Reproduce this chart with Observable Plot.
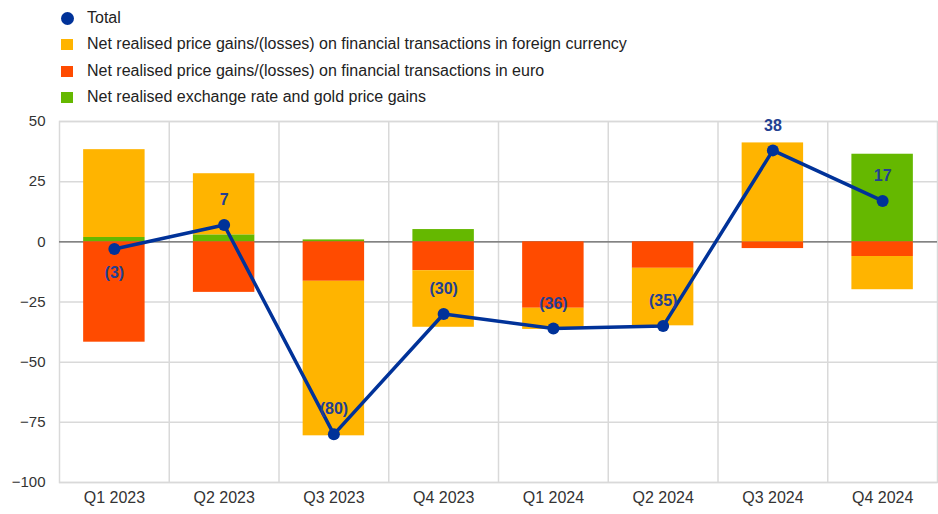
<!DOCTYPE html>
<html>
<head>
<meta charset="utf-8">
<script src="https://cdn.jsdelivr.net/npm/d3@7"></script>
<script src="https://cdn.jsdelivr.net/npm/@observablehq/plot@0.6"></script>
<style>
  body { margin: 0; background: #fff; font-family: "Liberation Sans", Arial, sans-serif; }
  #legend { position: relative; height: 108px; width: 938px; }
  .item { position: absolute; left: 60px; height: 20px; display: flex; align-items: center; font-size: 16px; color: #222; }
  .sw { width: 12px; height: 11px; margin-right: 14px; margin-left: 1px; }
  .dot { width: 13px; height: 13px; border-radius: 50%; margin-right: 13px; margin-left: 1px; }
</style>
</head>
<body>
<div id="legend"></div>
<div id="chart"></div>
<script>
const categories = ["Q1 2023", "Q2 2023", "Q3 2023", "Q4 2023", "Q1 2024", "Q2 2024", "Q3 2024", "Q4 2024"];
const foreign = [36.5, 25.4, -64.2, -23.5, -8.8, -23.9, 41.1, -13.8];
const euro = [-41.7, -21.0, -16.4, -12.0, -27.6, -11.0, -2.8, -6.1];
const gold = [1.8, 2.9, 0.8, 5.1, 0, 0, 0, 36.4];
const total = [-3, 7, -80, -30, -36, -35, 38, 17];
const labelPos = ["below", "above", "above", "above", "above", "above", "above", "above"];
const yTicks = [-100, -75, -50, -25, 0, 25, 50];

const seriesNames = [
  "Net realised exchange rate and gold price gains",
  "Net realised price gains/(losses) on financial transactions in euro",
  "Net realised price gains/(losses) on financial transactions in foreign currency"
];
const seriesColors = ["#65B800", "#FF4B00", "#FFB400"];
const totalName = "Total";
const totalColor = "#003299";
const labelColor = "#233f92";

// legend
const legendItems = [
  {name: totalName, color: totalColor, dot: true},
  {name: seriesNames[2], color: seriesColors[2]},
  {name: seriesNames[1], color: seriesColors[1]},
  {name: seriesNames[0], color: seriesColors[0]}
];
const legend = document.getElementById("legend");
const rowTops = [8, 34, 61, 87];
legendItems.forEach((it, i) => {
  const div = document.createElement("div");
  div.className = "item";
  div.style.top = rowTops[i] + "px";
  const sw = document.createElement("span");
  sw.className = it.dot ? "dot" : "sw";
  sw.style.background = it.color;
  div.appendChild(sw);
  const t = document.createElement("span");
  t.textContent = it.name;
  div.appendChild(t);
  legend.appendChild(div);
});

const bars = [];
categories.forEach((c, i) => {
  bars.push({cat: c, series: seriesNames[0], value: gold[i]});
  bars.push({cat: c, series: seriesNames[1], value: euro[i]});
  bars.push({cat: c, series: seriesNames[2], value: foreign[i]});
});
const totals = categories.map((c, i) => ({cat: c, value: total[i], pos: labelPos[i]}));
const fmt = v => v < 0 ? `(${Math.abs(v)})` : `${v}`;

const W = 938, H = 406, ML = 59, MR = 1, MT = 13, MB = 32;
const step = (W - ML - MR) / categories.length;
const grid = "#d9d9d9";

const chart = Plot.plot({
  width: W, height: H,
  marginLeft: ML, marginRight: MR, marginTop: MT, marginBottom: MB,
  style: {fontFamily: "Liberation Sans, Arial, sans-serif", background: "#fff"},
  x: {domain: categories, paddingInner: 0.44, paddingOuter: 0.22, round: false, label: null},
  y: {domain: [-100, 50], label: null},
  color: {domain: seriesNames, range: seriesColors},
  marks: [
    Plot.gridY(yTicks, {stroke: grid, strokeOpacity: 1, strokeWidth: 1.5}),
    Plot.ruleX(categories.slice(1), {x: d => d, dx: -step / 2, stroke: grid, strokeWidth: 1.5}),
    Plot.frame({stroke: grid, strokeWidth: 1.5}),
    Plot.ruleY([0], {stroke: "#666", strokeWidth: 1.3}),
    Plot.barY(bars, Plot.stackY({order: seriesNames}, {x: "cat", y: "value", z: "series", fill: "series"})),
    Plot.line(totals, {x: "cat", y: "value", stroke: totalColor, strokeWidth: 3.5}),
    Plot.dot(totals, {x: "cat", y: "value", r: 6, fill: totalColor}),
    Plot.text(totals.filter(d => d.pos === "above"), {x: "cat", y: "value", text: d => fmt(d.value), dy: -25, fill: labelColor, fontSize: 16, fontWeight: "bold"}),
    Plot.text(totals.filter(d => d.pos === "below"), {x: "cat", y: "value", text: d => fmt(d.value), dy: 24, fill: labelColor, fontSize: 16, fontWeight: "bold"}),
    Plot.axisY({ticks: yTicks, tickSize: 0, tickPadding: 14, fontSize: 15, fill: "#333", label: null}),
    Plot.axisX({tickSize: 0, tickPadding: 9, fontSize: 16, fill: "#333", label: null})
  ]
});
document.getElementById("chart").appendChild(chart);
</script>
</body>
</html>
